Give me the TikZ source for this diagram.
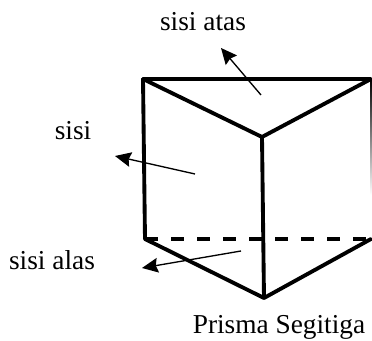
\documentclass[tikz,border=0pt]{standalone}
\usepackage{fontspec}
\setmainfont{Liberation Serif}
\usepackage{tikz}
\usetikzlibrary{arrows.meta}

\begin{document}
\begin{tikzpicture}[
    x=0.75pt, y=-0.75pt,
    edge/.style={line width=2.9pt, line cap=round, line join=round},
    hidden/.style={line width=2.9pt, dash pattern=on 10pt off 9.5pt},
    arrow/.style={-{Stealth[length=12pt,width=11pt,inset=1.5pt]}, line width=1pt},
    label/.style={inner sep=0pt, font=\fontsize{20.5}{24}\selectfont}
]
    \useasboundingbox (0,0) rectangle (372,341);

    \coordinate (topleft) at (143,79);
    \coordinate (topright) at (371,79);
    \coordinate (topfront) at (262,137);
    \coordinate (baseleft) at (145,239);
    \coordinate (baseright) at (371,239);
    \coordinate (basefront) at (264,298);
    \coordinate (fadestart) at (370.6,79);
    \coordinate (fadeend) at (371.8,195);

    \node[label] (atas) at (203,22) {sisi atas};
    \node[label] (sisi) at (73,131) {sisi};
    \node[label] (alas) at (52,260) {sisi alas};
    \node[label] (prisma) at (279,327) {Prisma Segitiga};

    \coordinate (atasstart) at (261,95);
    \coordinate (atasend) at (221,48);
    \coordinate (sisistart) at (195,174);
    \coordinate (sisiend) at (115,156);
    \coordinate (alasstart) at (241,251);
    \coordinate (alasend) at (142,268);

    \shade[top color=black, bottom color=white] (fadestart) rectangle (fadeend);
    \draw[edge] (topright) -- (topleft) -- (topfront) -- (topright);
    \draw[edge] (topleft) -- (baseleft) -- (basefront) -- (baseright);
    \draw[edge] (topfront) -- (basefront);
    \draw[hidden] (baseleft) -- (baseright);

    \draw[arrow] (atasstart) -- (atasend);
    \draw[arrow] (sisistart) -- (sisiend);
    \draw[arrow] (alasstart) -- (alasend);
\end{tikzpicture}
\end{document}
